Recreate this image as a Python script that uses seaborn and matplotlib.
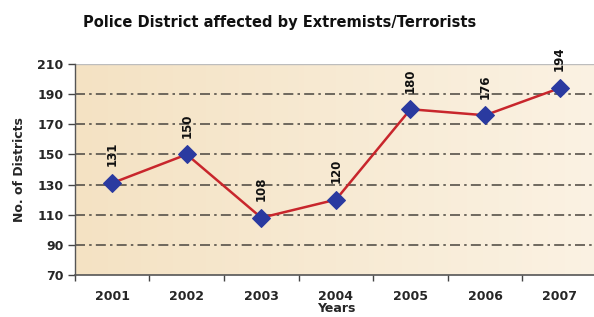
import numpy as np
import pandas as pd
import matplotlib
matplotlib.use("Agg")
import matplotlib.pyplot as plt
from matplotlib.colors import LinearSegmentedColormap
import seaborn as sns

years = ["2001", "2002", "2003", "2004", "2005", "2006", "2007"]
districts = [131, 150, 108, 120, 180, 176, 194]
yticks = [70, 90, 110, 130, 150, 170, 190, 210]

df = pd.DataFrame({"year": years, "districts": districts})
df["pos"] = np.arange(len(years))

sns.set_style("white")
plt.rcParams["font.family"] = ["DejaVu Sans"]
plt.rcParams["font.weight"] = "bold"

fig = plt.figure(figsize=(5.94, 3.17), dpi=100)
ax = fig.add_axes([0.126, 0.1325, 0.879, 0.6655])

# beige gradient background
grad = np.linspace(0, 1, 256).reshape(1, -1)
bg = LinearSegmentedColormap.from_list("bg", ["#f4e2c3", "#fbf2e3"])
ax.imshow(grad, extent=[-0.5, 6.5, 70, 210], aspect="auto", cmap=bg, zorder=0)

for y in yticks[1:-1]:
    ax.axhline(y, color="#57524a", lw=1.2, linestyle=(0, (6, 2.5, 1.5, 2.5)), zorder=1)

sns.lineplot(data=df, x="pos", y="districts", ax=ax, color="#c8262c", lw=1.8,
             marker="D", markersize=9, markerfacecolor="#2a3aa0",
             markeredgecolor="#2a3aa0", zorder=3)

for x, v in zip(df["pos"], df["districts"]):
    ax.annotate(str(v), (x, v), xytext=(0, 12), textcoords="offset points",
                rotation=90, ha="center", va="bottom", fontsize=8.5,
                fontweight="bold", color="#111111")

ax.set_xlim(-0.5, 6.5)
ax.set_ylim(70, 210)
ax.set_yticks(yticks)
ax.set_xticks(np.arange(len(years)))
ax.set_xticklabels(years)
ax.set_xticks(np.arange(-0.5, 6.5, 1), minor=True)
ax.tick_params(axis="x", which="major", length=0, pad=11, labelsize=9)
ax.tick_params(axis="x", which="minor", length=4, width=1, color="#444444", direction="out", bottom=True)
ax.tick_params(axis="y", length=5, width=1, color="#444444", direction="out", left=True, labelsize=9, pad=3)

for side in ["top", "right"]:
    ax.spines[side].set_visible(False)
ax.spines["left"].set_color("#555555")
ax.spines["bottom"].set_color("#555555")
ax.spines["left"].set_linewidth(1.0)
ax.spines["bottom"].set_linewidth(1.2)
ax.axhline(210, color="#bdbdbd", lw=1.0, zorder=2)

ax.set_xlabel("Years", fontsize=9, fontweight="bold", labelpad=-1)
ax.set_ylabel("No. of Districts", fontsize=9, fontweight="bold", labelpad=8)

fig.text(0.47, 0.93, "Police District affected by Extremists/Terrorists",
         ha="center", va="center", fontsize=10.5, fontweight="bold", color="#111111")

fig.savefig("out.png", dpi=100)
